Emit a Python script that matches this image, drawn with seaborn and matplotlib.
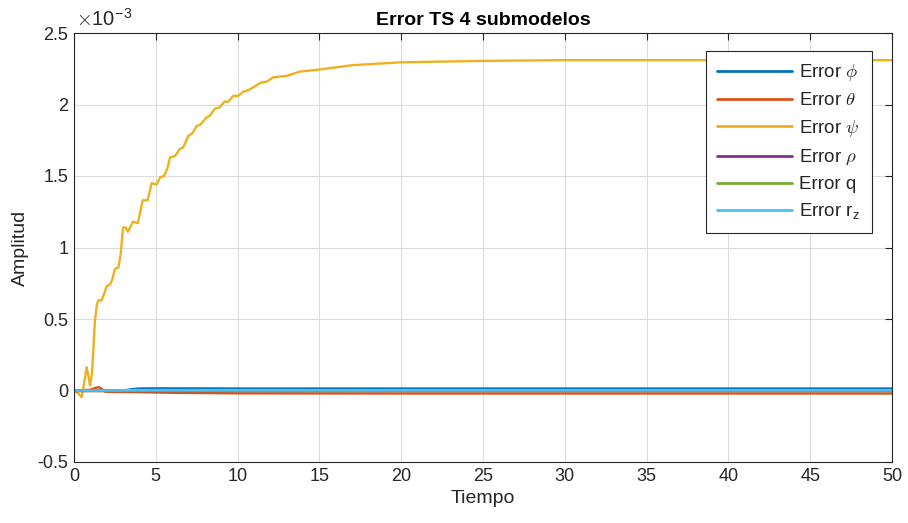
import numpy as np
import pandas as pd
import matplotlib
matplotlib.use("Agg")
import matplotlib.pyplot as plt
from matplotlib.ticker import FuncFormatter, MultipleLocator
import seaborn as sns

# ---- data (amplitudes in units of 1e-3) ----
t_psi = [0.0, 0.25, 0.47, 0.62, 0.77, 0.9, 0.98, 1.1, 1.18, 1.28, 1.4, 1.49, 1.69,
         1.85, 2.0, 2.2, 2.35, 2.5, 2.71, 2.85, 3.0, 3.15, 3.3, 3.6, 3.9, 4.05,
         4.2, 4.5, 4.75, 5.05, 5.26, 5.5, 5.7, 5.87, 6.17, 6.48, 6.68, 6.99,
         7.25, 7.5, 7.74, 8.1, 8.3, 8.6, 8.9, 9.2, 9.43, 9.74, 10.04, 10.35,
         10.65, 10.96, 11.37, 11.78, 12.18, 13.0, 13.8, 15.04, 17.0, 20.0,
         25.0, 30.0, 35.0, 40.0, 45.0, 50.0]
psi = [0.0, -0.02, -0.047, 0.05, 0.163, 0.09, 0.035, 0.12, 0.28, 0.49, 0.6, 0.63, 0.63,
       0.68, 0.73, 0.74, 0.78, 0.85, 0.86, 0.95, 1.14, 1.14, 1.11, 1.18, 1.17, 1.25,
       1.33, 1.33, 1.45, 1.44, 1.49, 1.50, 1.55, 1.63, 1.64, 1.69, 1.70, 1.78,
       1.80, 1.85, 1.86, 1.91, 1.92, 1.97, 1.98, 2.02, 2.02, 2.06, 2.06, 2.09,
       2.10, 2.12, 2.15, 2.16, 2.19, 2.20, 2.23, 2.245, 2.275, 2.295,
       2.305, 2.31, 2.31, 2.31, 2.31, 2.31]

t_phi = [0.0, 2.5, 3.2, 3.6, 4.0, 5.0, 10.0, 50.0]
phi = [0.0, 0.0, 0.003, 0.010, 0.014, 0.015, 0.014, 0.014]

t_theta = [0.0, 1.0, 1.3, 1.5, 1.7, 1.9, 2.2, 4.0, 6.0, 10.0, 20.0, 50.0]
theta = [0.0, 0.005, 0.018, 0.023, 0.012, -0.008, -0.010, -0.012, -0.016, -0.020, -0.021, -0.021]

t_rho = [0.0, 50.0]
rho = [0.0, 0.0]

t_q = [0.0, 50.0]
q = [0.0, 0.0]

t_rz = [0.0, 2.0, 4.0, 10.0, 50.0]
rz = [0.0, 0.001, 0.003, 0.003, 0.003]

labels = [r"Error $\phi$", r"Error $\theta$", r"Error $\psi$",
          r"Error $\rho$", "Error q", r"Error r$_{\mathregular{z}}$"]
colors = ["#0072BD", "#D95319", "#EDB120", "#7E2F8E", "#77AC30", "#4DBEEE"]

series = [(t_phi, phi), (t_theta, theta), (t_psi, psi),
          (t_rho, rho), (t_q, q), (t_rz, rz)]
frames = []
for lab, (tt, vv) in zip(labels, series):
    frames.append(pd.DataFrame({"Tiempo": tt,
                                "Amplitud": np.asarray(vv) * 1e-3,
                                "serie": lab}))
df = pd.concat(frames, ignore_index=True)

# ---- style ----
sns.set_style("white")
plt.rcParams["font.family"] = ["Liberation Sans", "DejaVu Sans"]
plt.rcParams["mathtext.fontset"] = "cm"
plt.rcParams["axes.unicode_minus"] = False

fig = plt.figure(figsize=(9.08, 5.23), dpi=100)
ax = fig.add_axes([74 / 908, 1 - 462 / 523, (892 - 74) / 908, (462 - 33) / 523])

sns.lineplot(data=df, x="Tiempo", y="Amplitud", hue="serie",
             palette=dict(zip(labels, colors)), hue_order=labels,
             estimator=None, sort=False, linewidth=1.7, ax=ax)

ax.set_xlim(0, 50)
ax.set_ylim(-0.5e-3, 2.5e-3)
ax.xaxis.set_major_locator(MultipleLocator(5))
ax.yaxis.set_major_locator(MultipleLocator(0.5e-3))
ax.yaxis.set_major_formatter(FuncFormatter(lambda v, p: f"{v * 1e3:g}"))
ax.xaxis.set_major_formatter(FuncFormatter(lambda v, p: f"{v:g}"))

tick_col = "#262626"
ax.grid(True, color="#dcdcdc", linewidth=0.8)
ax.set_axisbelow(True)
for s in ax.spines.values():
    s.set_visible(True)
    s.set_color(tick_col)
    s.set_linewidth(0.8)
ax.tick_params(axis="both", which="major", direction="in", length=5,
               width=0.8, color=tick_col, labelcolor=tick_col, labelsize=13,
               top=True, right=True, pad=4)

ax.set_xlabel("Tiempo", fontsize=14, color=tick_col, labelpad=4)
ax.set_ylabel("Amplitud", fontsize=14, color=tick_col, labelpad=6)
ax.set_title("Error TS 4 submodelos", fontsize=14, fontweight="bold",
             color="black", pad=6)

ax.text(0.002, 1.008, r"$\times$10$^{\mathregular{-3}}$", transform=ax.transAxes,
        fontsize=14.5, color=tick_col, ha="left", va="bottom",
        family=["Liberation Sans", "DejaVu Sans"])

handles, _ = ax.get_legend_handles_labels()
leg = ax.legend(handles=handles, labels=labels, loc="upper right",
                bbox_to_anchor=(0.9756, 0.958), borderaxespad=0.0,
                fontsize=13.5, frameon=True,
                fancybox=False, framealpha=1, edgecolor="#262626",
                handlelength=4.0, handletextpad=0.35, labelspacing=0.47,
                borderpad=0.6)
leg.get_frame().set_linewidth(0.8)
for h in leg.get_lines():
    h.set_linewidth(2.0)

fig.savefig("out.png", dpi=100)
